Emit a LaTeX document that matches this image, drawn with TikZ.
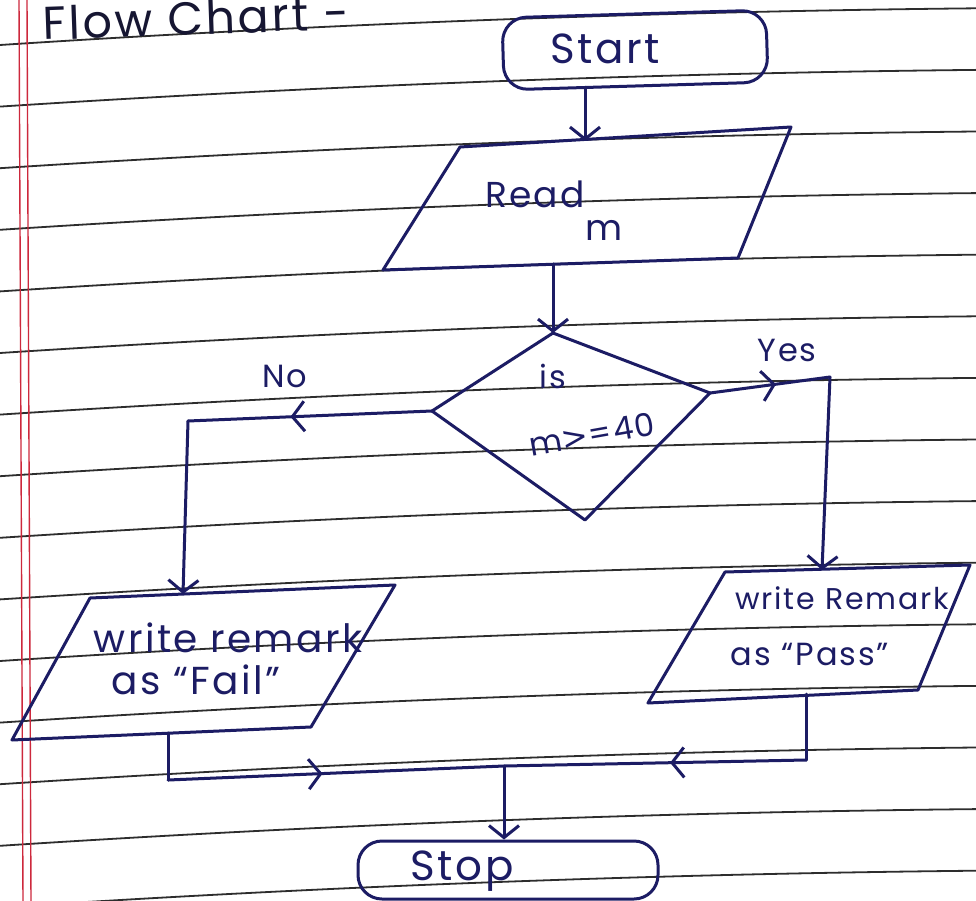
\documentclass[tikz,border=0pt]{standalone}
\usepackage{fontspec}
\setmainfont{Poppins}
\newfontfamily\hand[LetterSpace=6]{Poppins}
\newfontfamily\symfont{DejaVu Sans}
\usetikzlibrary{arrows.meta,decorations.markings}

\definecolor{ink}{RGB}{28,28,100}
\definecolor{titleink}{RGB}{22,22,50}
\definecolor{rulegray}{RGB}{45,45,45}
\definecolor{marginred}{RGB}{205,40,60}

\tikzset{
  hbarb/.tip={Straight Barb[length=12pt,width=30pt]},
  pen/.style={draw=ink, line width=3pt, line cap=round, line join=round},
  flow/.style={pen, -{hbarb}},
  midbarb/.style={postaction={decorate},
    decoration={markings, mark=at position #1 with {\arrow{hbarb}}}},
  handtext/.style={text=ink, inner sep=0pt, font=\hand\fontsize{36}{40}\selectfont},
  smalltext/.style={text=ink, inner sep=0pt, font=\hand\fontsize{30}{34}\selectfont},
  term/.style={pen, rounded corners=24pt, inner sep=0pt},
  ruleline/.style={draw=rulegray, line width=1.8pt},
  marginline/.style={draw=marginred, line width=1.4pt},
}

\begin{document}
\begin{tikzpicture}[x=1pt,y=-1pt]
  % sheet
  \fill[white] (0,0) rectangle (976,901);
  \useasboundingbox (0,0) rectangle (976,901);

  % ruled lines of the notebook page
  \foreach \k in {0,...,14}{
    \pgfmathsetmacro\yy{45+61.6*\k}
    \draw[ruleline] (0,\yy) .. controls (325,\yy-21.1) and (651,\yy-33.4) .. (976,\yy-36.7);
  }
  % double margin rule
  \draw[marginline] (19,0) -- (23,901);
  \draw[marginline] (27,0) -- (31,901);

  % heading
  \node[text=titleink, inner sep=0pt, anchor=base west, rotate=2,
        font=\hand\fontsize{46}{50}\selectfont] (title) at (43,40) {Flow Chart -};

  % terminals
  \node[term, minimum width=264pt, minimum height=72pt, rotate=1.7] (start) at (635,50) {};
  \node[handtext, font=\hand\fontsize{42}{46}\selectfont] (startlbl) at (605,49) {Start};

  \node[term, minimum width=300pt, minimum height=58pt] (stop) at (508,870) {};
  \node[handtext, font=\hand\fontsize{42}{46}\selectfont] (stoplbl) at (462,871) {Stop};

  % input box: Read m
  \coordinate (rTL) at (460,147);
  \coordinate (rTR) at (791,127);
  \coordinate (rBR) at (738,258);
  \coordinate (rBL) at (383,270);
  \draw[pen] (rTL) -- (rTR) -- (rBR) -- (rBL) -- cycle;
  \node[handtext] (readlbl) at (535,194) {Read};
  \node[handtext] (mlbl) at (604,230) {m};
  \coordinate (readin) at (585,141);
  \coordinate (readout) at (553,264);

  % decision
  \coordinate (dtop) at (553,333);
  \coordinate (dright) at (710,393);
  \coordinate (dbot) at (585,520);
  \coordinate (dleft) at (432,411);
  \draw[pen] (dtop) -- (dright) -- (dbot) -- (dleft) -- cycle;
  \node[handtext, font=\hand\fontsize{32}{36}\selectfont] (islbl) at (553,376) {is};
  \node[handtext, font=\hand\fontsize{32}{36}\selectfont, rotate=10] (condlbl) at (592,434)
    {m{\symfont>}=40};

  % output box: fail
  \coordinate (fTL) at (90,598);
  \coordinate (fTR) at (395,585);
  \coordinate (fBR) at (311,727);
  \coordinate (fBL) at (12,740);
  \draw[pen] (fTL) -- (fTR) -- (fBR) -- (fBL) -- cycle;
  \node[handtext, font=\hand\fontsize{39}{42}\selectfont] (faillbl1) at (228,638) {write remark};
  \node[handtext, font=\hand\fontsize{39}{42}\selectfont] (faillbl2) at (196,680) {as “Fail”};
  \coordinate (failin) at (183,594);
  \coordinate (failout) at (168,733);

  % output box: pass
  \coordinate (pTL) at (725,572);
  \coordinate (pTR) at (970,565);
  \coordinate (pBR) at (918,690);
  \coordinate (pBL) at (648,703);
  \draw[pen] (pTL) -- (pTR) -- (pBR) -- (pBL) -- cycle;
  \node[smalltext] (passlbl1) at (842,598) {write Remark};
  \node[smalltext, font=\hand\fontsize{32}{36}\selectfont] (passlbl2) at (810,654) {as “Pass”};
  \coordinate (passin) at (822,570);
  \coordinate (passout) at (806,694);

  % branch labels
  \node[handtext, font=\hand\fontsize{32}{36}\selectfont] (nolbl) at (285,376) {No};
  \node[handtext, font=\hand\fontsize{32}{36}\selectfont] (yeslbl) at (787,350) {Yes};

  % connectors
  \coordinate (nocorner) at (188,421);
  \coordinate (yescorner) at (830,377);
  \coordinate (fcorner) at (168,780);
  \coordinate (pcorner) at (806,760);
  \coordinate (merge) at (504,766);

  \draw[flow] (start.south -| readin) -- (readin);
  \draw[flow] (readout) -- (dtop);

  \draw[pen, midbarb=0.58] (dleft) -- (nocorner);
  \draw[flow] (nocorner) -- (failin);

  \draw[pen, midbarb=0.55] (dright) -- (yescorner);
  \draw[flow] (yescorner) -- (passin);

  \draw[pen] (failout) -- (fcorner);
  \draw[pen, midbarb=0.46] (fcorner) -- (merge);
  \draw[pen] (passout) -- (pcorner);
  \draw[pen, midbarb=0.45] (pcorner) -- (merge);
  \draw[flow] (merge) -- (merge |- stop.north);
\end{tikzpicture}
\end{document}
